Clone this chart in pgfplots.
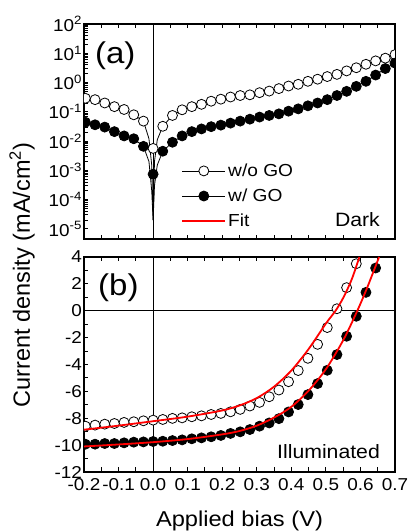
\documentclass[border=0pt]{standalone}
\usepackage{pgfplots}
\pgfplotsset{compat=1.18}
\usepackage{fontspec}
\setmainfont{Liberation Sans}[FakeStretch=1.1]
\newfontfamily\plainsans{Liberation Sans}

\newcommand{\tickfont}{\fontsize{17.2}{20.6}\selectfont}
\newcommand{\legfont}{\fontsize{17.4}{20.9}\selectfont}
\newcommand{\labfont}{\fontsize{21.5}{25}\selectfont}

\begin{document}
\begin{tikzpicture}
\useasboundingbox (-84pt,-59pt) rectangle (327pt,472pt);
\pgfplotsset{
  panel/.style={
    width=311pt, height=215pt, scale only axis,
    xmin=-0.2, xmax=0.7,
    xtick={-0.2,-0.1,0,0.1,0.2,0.3,0.4,0.5,0.6,0.7},
    minor x tick num=1,
    tick align=inside, xtick pos=both, ytick pos=left,
    major tick length=4.5pt, minor tick length=4.5pt,
    every tick/.style={black, line width=0.9pt},
    axis line style={line width=1.2pt},
    tick label style={font=\tickfont},
    /pgf/number format/assume math mode=true,
    clip marker paths=true,
  },
  open/.style={black, line width=0.8pt, mark=*, mark size=5pt, mark options={fill=white, line width=0.8pt}},
  filled/.style={black, line width=0.8pt, mark=*, mark size=5pt, mark options={fill=black}},
  fit/.style={red, line width=1.8pt, smooth, mark=none},
  longleg/.style={legend image code/.code={\draw[mark repeat=2,mark phase=2,##1] plot coordinates {(0pt,0pt) (21.5pt,0pt) (43pt,0pt)};}},
  every axis plot post/.append style={legend image code/.code={\draw[mark repeat=2,mark phase=2,##1] plot coordinates {(0pt,0pt) (21.5pt,0pt) (43pt,0pt)};}},
}

% (b) illuminated
\begin{axis}[panel, at={(0,0)}, anchor=south west,
  ymin=-12, ymax=4,
  ytick={-12,-10,-8,-6,-4,-2,0,2,4},
  yticklabels={-12,-10,-8,-6,-4,-2,0,2,4},
  minor y tick num=1,
  xticklabels={-0.2,-0.1,0.0,0.1,0.2,0.3,0.4,0.5,0.6,0.7},
  xticklabel style={inner xsep=0pt, yshift=-2.5pt},
  yticklabel style={xshift=1.5pt},
]
\addplot[black, line width=1pt] coordinates {(0,-12) (0,4)};
\addplot[black, line width=1pt] coordinates {(-0.2,0) (0.7,0)};
\addplot[open, only marks] coordinates {
(-0.196,-8.59) (-0.168,-8.51) (-0.140,-8.44) (-0.112,-8.39) (-0.084,-8.31)
(-0.056,-8.26) (-0.028,-8.19) (0.000,-8.14) (0.028,-8.09) (0.056,-8.01)
(0.084,-7.97) (0.112,-7.89) (0.140,-7.82) (0.168,-7.72) (0.196,-7.64)
(0.224,-7.52) (0.252,-7.34) (0.280,-7.09) (0.308,-6.82) (0.336,-6.40)
(0.364,-5.90) (0.392,-5.28) (0.420,-4.45) (0.448,-3.54) (0.476,-2.50)
(0.504,-1.25) (0.532,0.15) (0.560,1.72) (0.588,3.50)
};
\addplot[filled, only marks] coordinates {
(-0.196,-9.93) (-0.168,-9.93) (-0.140,-9.88) (-0.112,-9.88) (-0.084,-9.83)
(-0.056,-9.78) (-0.028,-9.76) (0.000,-9.73) (0.028,-9.71) (0.056,-9.66)
(0.084,-9.61) (0.112,-9.53) (0.140,-9.46) (0.168,-9.38) (0.196,-9.28)
(0.224,-9.13) (0.252,-9.01) (0.280,-8.84) (0.308,-8.59) (0.336,-8.35)
(0.364,-8.03) (0.392,-7.53) (0.420,-6.98) (0.448,-6.24) (0.476,-5.42)
(0.504,-4.43) (0.532,-3.26) (0.560,-1.90) (0.588,-0.41) (0.616,1.37)
(0.644,3.18)
};
\addplot[fit] coordinates {
(-0.2,-8.85) (-0.1,-8.55) (0,-8.22) (0.1,-7.88) (0.2,-7.42) (0.25,-7.05)
(0.3,-6.50) (0.35,-5.65) (0.4,-4.45) (0.45,-2.85) (0.5,-0.95) (0.528,0.0)
(0.55,0.95) (0.575,2.35) (0.597,4.0)
};
\addplot[fit] coordinates {
(-0.2,-10.1) (-0.1,-9.95) (0,-9.78) (0.1,-9.55) (0.2,-9.2) (0.25,-8.95)
(0.3,-8.55) (0.35,-7.95) (0.4,-7.15) (0.45,-5.95) (0.5,-4.35) (0.55,-2.2)
(0.591,0.0) (0.62,1.75) (0.654,4.0)
};
\node[anchor=west, font=\fontsize{30}{35}\selectfont, inner sep=0pt] at (rel axis cs:0.045,0.856) {(b)};
\node[anchor=base east, font=\fontsize{19.3}{23}\selectfont, inner sep=0pt] at (rel axis cs:0.952,0.065) {Illuminated};
\end{axis}

% (a) dark
\begin{axis}[panel, at={(0,233pt)}, anchor=south west,
  ymode=log, ymin=4.5e-6, ymax=100,
  ytick={1e-5,1e-4,1e-3,1e-2,1e-1,1,10,100},
  yticklabels={10\textsuperscript{-5},10\textsuperscript{-4},10\textsuperscript{-3},10\textsuperscript{-2},10\textsuperscript{-1},10\textsuperscript{0},10\textsuperscript{1},10\textsuperscript{2}},
  xticklabels={},
  yticklabel style={xshift=1.5pt},
  legend style={draw=none, fill=none, at={(rel axis cs:0.303,0.369)}, anchor=north west,
    font=\legfont, row sep=7pt, legend cell align=left},
]
\addplot[black, line width=1pt, forget plot] coordinates {(0,4.5e-6) (0,100)};
% connecting lines of the measured curves
\addplot[black, line width=0.8pt, forget plot] coordinates {
(-0.196,0.29) (-0.168,0.26) (-0.140,0.20) (-0.112,0.15) (-0.084,0.12)
(-0.056,0.079) (-0.028,0.048) (-0.012,0.012) (-0.004,0.0015) (0,2e-5)
(0.004,0.002) (0.012,0.011) (0.028,0.032) (0.056,0.075) (0.084,0.117)
(0.112,0.15) (0.140,0.18) (0.168,0.23) (0.196,0.27) (0.224,0.32)
(0.252,0.36) (0.280,0.38) (0.308,0.45) (0.336,0.51) (0.364,0.62)
(0.392,0.76) (0.420,0.87) (0.448,1.1) (0.476,1.3) (0.504,1.6)
(0.532,1.9) (0.560,2.5) (0.588,3.2) (0.616,4.2) (0.644,5.5)
(0.672,6.8) (0.700,9.0)
};
\addplot[black, line width=0.8pt, forget plot] coordinates {
(-0.196,0.044) (-0.168,0.036) (-0.140,0.030) (-0.112,0.021) (-0.084,0.015)
(-0.056,0.012) (-0.028,0.0066) (-0.012,0.002) (-0.004,0.0002) (0,2e-5)
(0.004,0.0003) (0.012,0.0015) (0.028,0.0045) (0.056,0.0091) (0.084,0.015)
(0.112,0.021) (0.140,0.026) (0.168,0.031) (0.196,0.035) (0.224,0.041)
(0.252,0.048) (0.280,0.056) (0.308,0.066) (0.336,0.075) (0.364,0.085)
(0.392,0.105) (0.420,0.126) (0.448,0.16) (0.476,0.20) (0.504,0.26)
(0.532,0.36) (0.560,0.50) (0.588,0.74) (0.616,1.1) (0.644,1.8)
(0.672,3.0) (0.700,4.6)
};
\addplot[open, only marks, forget plot] coordinates {
(-0.196,0.29) (-0.168,0.26) (-0.140,0.20) (-0.112,0.15) (-0.084,0.12)
(-0.056,0.079) (-0.028,0.048) (0.000,0.0056) (0.028,0.032) (0.056,0.075)
(0.084,0.117) (0.112,0.15) (0.140,0.18) (0.168,0.23) (0.196,0.27)
(0.224,0.32) (0.252,0.36) (0.280,0.38) (0.308,0.45) (0.336,0.51)
(0.364,0.62) (0.392,0.76) (0.420,0.87) (0.448,1.1) (0.476,1.3)
(0.504,1.6) (0.532,1.9) (0.560,2.5) (0.588,3.2) (0.616,4.2)
(0.644,5.5) (0.672,6.8) (0.700,9.0)
};
\addplot[filled, only marks, forget plot] coordinates {
(-0.196,0.044) (-0.168,0.036) (-0.140,0.030) (-0.112,0.021) (-0.084,0.015)
(-0.056,0.012) (-0.028,0.0066) (0.000,0.00074) (0.028,0.0045) (0.056,0.0091)
(0.084,0.015) (0.112,0.021) (0.140,0.026) (0.168,0.031) (0.196,0.035)
(0.224,0.041) (0.252,0.048) (0.280,0.056) (0.308,0.066) (0.336,0.075)
(0.364,0.085) (0.392,0.105) (0.420,0.126) (0.448,0.16) (0.476,0.20)
(0.504,0.26) (0.532,0.36) (0.560,0.50) (0.588,0.74) (0.616,1.1)
(0.644,1.8) (0.672,3.0) (0.700,4.6)
};
\addlegendimage{open, sharp plot, longleg}
\addlegendentry{w/o GO}
\addlegendimage{filled, sharp plot, longleg}
\addlegendentry{w/ GO}
\addlegendimage{red, line width=1.8pt, sharp plot, longleg}
\addlegendentry{Fit}
\node[anchor=west, font=\fontsize{30}{35}\selectfont, inner sep=0pt] at (rel axis cs:0.035,0.851) {(a)};
\node[anchor=base east, font=\fontsize{19.3}{23}\selectfont, inner sep=0pt] at (rel axis cs:0.952,0.06) {Dark};
\end{axis}

\node[rotate=90, anchor=center, font=\plainsans\fontsize{23.5}{27}\selectfont] at (-62pt,197pt) {Current density (mA/cm\textsuperscript{2})};
\node[anchor=base, font=\labfont] at (155.5pt,-54.7pt) {Applied bias (V)};
\end{tikzpicture}
\end{document}
